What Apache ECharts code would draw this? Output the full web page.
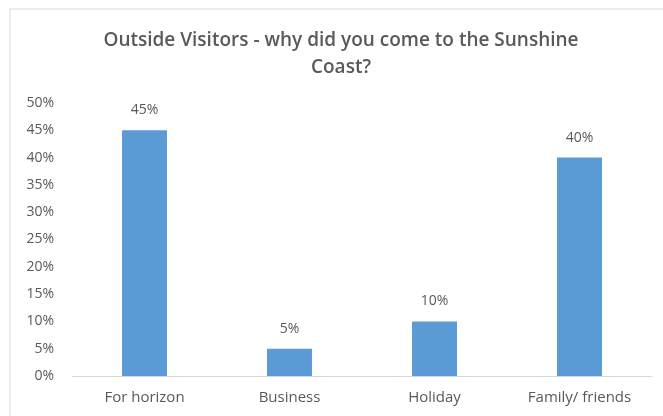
<!DOCTYPE html>
<html>
<head>
<meta charset="utf-8">
<script src="https://cdn.jsdelivr.net/npm/echarts@6/dist/echarts.min.js"></script>
<style>
  html, body { margin: 0; padding: 0; background: #fff; }
  #main { width: 663px; height: 416px; }
</style>
</head>
<body>
<div id="main"></div>
<script>
var categories = ['For horizon', 'Business', 'Holiday', 'Family/ friends'];
var shares = [45, 5, 10, 40];
var yTicks = { min: 0, max: 50, step: 5 };
var titleText = 'Outside Visitors - why did you come to the Sunshine\nCoast?';

var chart = echarts.init(document.getElementById('main'));
var font = 'Open Sans';
chart.setOption({
  animation: false,
  graphic: [{
    type: 'rect',
    shape: { x: 10, y: 9, width: 700, height: 450 },
    style: { fill: 'none', stroke: '#d9d9d9', lineWidth: 1 },
    silent: true
  }, {
    // chart title, centred on the chart frame rather than the window
    type: 'text',
    x: 341,
    y: 27,
    silent: true,
    style: {
      text: titleText,
      align: 'center',
      verticalAlign: 'top',
      fontFamily: font,
      fontSize: 19,
      fontWeight: 600,
      fill: '#595959',
      lineHeight: 27
    }
  }],
  grid: { left: 72, right: 11, top: 103, bottom: 40 },
  xAxis: {
    type: 'category',
    data: categories,
    axisLine: { lineStyle: { color: '#d9d9d9' } },
    axisTick: { show: false },
    axisLabel: { color: '#595959', fontFamily: font, fontSize: 15, margin: 14 }
  },
  yAxis: {
    type: 'value',
    min: yTicks.min,
    max: yTicks.max,
    interval: yTicks.step,
    axisLine: { show: false },
    axisTick: { show: false },
    splitLine: { show: false },
    axisLabel: {
      color: '#595959', fontFamily: font, fontSize: 14, margin: 18,
      formatter: '{value}%'
    }
  },
  series: [{
    type: 'bar',
    data: shares,
    barWidth: '31%',
    itemStyle: { color: '#5b9bd5' },
    label: {
      show: true,
      position: 'top',
      distance: 13,
      formatter: '{c}%',
      color: '#595959',
      fontFamily: font,
      fontSize: 14
    }
  }]
});
</script>
</body>
</html>
